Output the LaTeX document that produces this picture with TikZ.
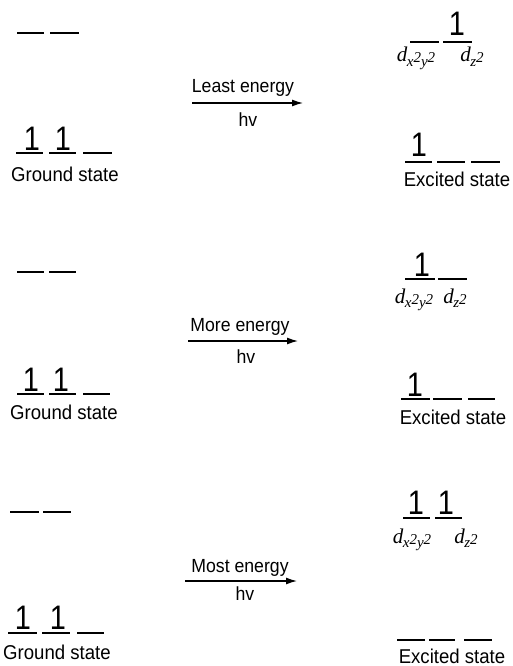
\documentclass[tikz,border=0pt]{standalone}
\usepackage{fontspec}
\setmainfont{Liberation Sans}[FakeStretch=0.93]
\newfontfamily\serifit{Liberation Serif}
\newfontfamily\spinfont{Liberation Sans}[FakeStretch=0.85]
\usetikzlibrary{arrows.meta}
\newcommand\dxy{{\serifit\itshape\fontsize{21}{21}\selectfont d\kern-0.5pt\raisebox{-4.5pt}{\fontsize{15}{15}\selectfont x\raisebox{3.5pt}{2}y\raisebox{3.5pt}{2}}}}
\newcommand\dzz{{\serifit\itshape\fontsize{21}{21}\selectfont d\kern-0.5pt\raisebox{-4.5pt}{\fontsize{15}{15}\selectfont z\raisebox{3.5pt}{2}}}}
\tikzset{
  lvl/.style={line width=1.4pt},
  spin/.style={anchor=base, inner sep=0pt, font=\spinfont\fontsize{34}{34}\selectfont},
  lbl/.style={anchor=base, inner sep=0pt, font=\fontsize{20}{20}\selectfont},
  albl/.style={anchor=base, inner sep=0pt, font=\fontsize{19}{19}\selectfont},
  dl/.style={anchor=base, inner sep=0pt},
  harrow/.style={line width=1.3pt, -{Latex[length=11pt,width=7pt]}}
}
\begin{document}
\begin{tikzpicture}[x=1pt,y=-1pt]
\useasboundingbox (0,0) rectangle (512,666);
% ---------------- Panel 1 ----------------
\draw[lvl] (17,33) -- (44,33);
\draw[lvl] (50,33) -- (79,33);
\draw[lvl] (16,153) -- (43,153);
\draw[lvl] (49,153) -- (76,153);
\draw[lvl] (83,153) -- (112,153);
\node[spin] (g1a) at (32,150) {1};
\node[spin] (g1b) at (63,150) {1};
\node[lbl] (g1) at (65,181) {Ground state};
\coordinate (a1s) at (192,103);
\coordinate (a1e) at (303,103);
\draw[harrow] (a1s) -- (a1e);
\node[albl] (l1) at (243,93) {Least energy};
\node[albl] (h1) at (248,127) {hv};
\draw[lvl] (410,42) -- (439,42);
\draw[lvl] (443,42) -- (472,42);
\node[spin] (e1u) at (457,36) {1};
\node[dl] (d1a) at (416,62) {\dxy};
\node[dl] (d1b) at (472,62) {\dzz};
\draw[lvl] (405,162) -- (432,162);
\draw[lvl] (437,162) -- (465,162);
\draw[lvl] (471,162) -- (500,162);
\node[spin] (e1l) at (419,157) {1};
\node[lbl] (x1) at (457,186) {Excited state};
% ---------------- Panel 2 ----------------
\draw[lvl] (17,272) -- (44,272);
\draw[lvl] (49,272) -- (76,272);
\draw[lvl] (17,394) -- (44,394);
\draw[lvl] (49,394) -- (76,394);
\draw[lvl] (83,394) -- (110,394);
\node[spin] (g2a) at (31,391) {1};
\node[spin] (g2b) at (61,391) {1};
\node[lbl] (g2) at (64,419) {Ground state};
\coordinate (a2s) at (188,341);
\coordinate (a2e) at (298,341);
\draw[harrow] (a2s) -- (a2e);
\node[albl] (l2) at (240,331) {More energy};
\node[albl] (h2) at (246,363) {hv};
\draw[lvl] (405,279) -- (435,279);
\draw[lvl] (438,279) -- (467,279);
\node[spin] (e2u) at (422,276) {1};
\node[dl] (d2a) at (414,303) {\dxy};
\node[dl] (d2b) at (455,303) {\dzz};
\draw[lvl] (401,399) -- (430,399);
\draw[lvl] (433,399) -- (462,399);
\draw[lvl] (468,399) -- (495,399);
\node[spin] (e2l) at (415,396) {1};
\node[lbl] (x2) at (453,424) {Excited state};
% ---------------- Panel 3 ----------------
\draw[lvl] (10,512) -- (39,512);
\draw[lvl] (43,512) -- (71,512);
\draw[lvl] (8,633) -- (37,633);
\draw[lvl] (42,633) -- (70,633);
\draw[lvl] (77,633) -- (104,633);
\node[spin] (g3a) at (23,629) {1};
\node[spin] (g3b) at (58,629) {1};
\node[lbl] (g3) at (57,659) {Ground state};
\coordinate (a3s) at (185,581);
\coordinate (a3e) at (297,581);
\draw[harrow] (a3s) -- (a3e);
\node[albl] (l3) at (240,572) {Most energy};
\node[albl] (h3) at (245,600) {hv};
\draw[lvl] (403,518) -- (430,518);
\draw[lvl] (435,518) -- (462,518);
\node[spin] (e3a) at (416,514) {1};
\node[spin] (e3b) at (446,514) {1};
\node[dl] (d3a) at (412,543) {\dxy};
\node[dl] (d3b) at (466,543) {\dzz};
\draw[lvl] (397,640) -- (425,640);
\draw[lvl] (429,640) -- (455,640);
\draw[lvl] (464,640) -- (492,640);
\node[lbl] (x3) at (452,663) {Excited state};
\end{tikzpicture}
\end{document}
